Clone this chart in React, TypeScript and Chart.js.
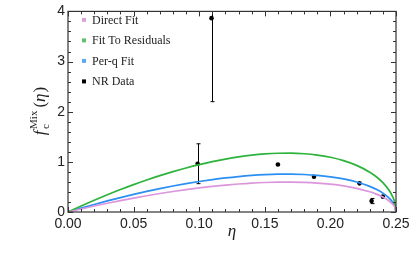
import React, { useEffect, useRef } from "react";
import { Chart, registerables } from "chart.js";

Chart.register(...registerables);

// ---- Data ----
const etaGrid = [
  0, 0.01, 0.02, 0.03, 0.04, 0.05, 0.06, 0.07, 0.08, 0.09, 0.1, 0.11, 0.12, 0.13,
  0.14, 0.15, 0.16, 0.17, 0.18, 0.19, 0.2, 0.21, 0.22, 0.23, 0.235, 0.24, 0.245,
  0.2475, 0.249, 0.25,
];
const directFit = [
  0, 0.0607, 0.1189, 0.1745, 0.2273, 0.2773, 0.3243, 0.3683, 0.409, 0.4464, 0.4803,
  0.5104, 0.5365, 0.5584, 0.5758, 0.5882, 0.5952, 0.5962, 0.5905, 0.5771, 0.5545,
  0.5208, 0.4725, 0.4033, 0.3569, 0.2976, 0.2148, 0.1535, 0.0976, 0,
];
const fitToResiduals = [
  0, 0.1195, 0.234, 0.3433, 0.4473, 0.5456, 0.6381, 0.7246, 0.8048, 0.8784, 0.945,
  1.0043, 1.0557, 1.0988, 1.133, 1.1574, 1.1712, 1.1732, 1.162, 1.1356, 1.0912,
  1.0248, 0.9298, 0.7937, 0.7023, 0.5856, 0.4227, 0.302, 0.1921, 0,
];
const perQFit = [
  0, 0.0769, 0.1506, 0.2209, 0.2878, 0.3511, 0.4106, 0.4663, 0.5179, 0.5652, 0.6081,
  0.6462, 0.6793, 0.707, 0.729, 0.7447, 0.7536, 0.7549, 0.7477, 0.7307, 0.7021,
  0.6594, 0.5982, 0.5107, 0.4519, 0.3768, 0.272, 0.1943, 0.1236, 0,
];
const nrEta = [0.0988, 0.1094, 0.16, 0.1875, 0.2222, 0.2314, 0.24];
const nrValue = [0.962, 3.865, 0.948, 0.704, 0.571, 0.219, 0.306];
const nrErrLow: (number | null)[] = [0.565, 2.2, null, null, null, 0.167, null];
const nrErrHigh: (number | null)[] = [1.36, 4.6, null, null, null, 0.27, null];

const seriesLabels = ["Direct Fit", "Fit To Residuals", "Per-q Fit", "NR Data"];
const xTickStep = 0.05;
const xMinorStep = 0.01;
const yTickStep = 1;
const yMinorStep = 0.2;
const xMin = 0, xMax = 0.25, yMin = 0, yMax = 4;

// ---- Styles ----
const lineColors = ["#DC96DC", "#2DB33C", "#2A8EF2", "#000000"];
const legendColors = ["#D9A3D9", "#62BF6A", "#62A8F0", "#000000"];
const SANS = "'Liberation Sans', Arial, sans-serif";
const SERIF = "'Liberation Serif', 'Times New Roman', serif";

const framePlugin = {
  id: "framePlugin",
  beforeDatasetsDraw(chart: any) {
    const ctx = chart.ctx;
    const xs = chart.scales.x;
    const ys = chart.scales.y;
    const { left, right, top, bottom } = chart.chartArea;
    ctx.save();
    ctx.beginPath();
    ctx.rect(left, top, right - left, bottom - top);
    ctx.clip();
    ctx.strokeStyle = "#000";
    ctx.lineWidth = 1;
    for (let i = 0; i < nrEta.length; i++) {
      const lo = nrErrLow[i];
      const hi = nrErrHigh[i];
      if (lo == null || hi == null) continue;
      const x = Math.round(xs.getPixelForValue(nrEta[i])) + 0.5;
      const y1 = ys.getPixelForValue(lo);
      const y2 = ys.getPixelForValue(hi);
      ctx.beginPath();
      ctx.moveTo(x, y1);
      ctx.lineTo(x, y2);
      ctx.moveTo(x - 2, y1);
      ctx.lineTo(x + 2, y1);
      ctx.moveTo(x - 2, y2);
      ctx.lineTo(x + 2, y2);
      ctx.stroke();
    }
    ctx.restore();
  },
  afterDraw(chart: any) {
    const ctx = chart.ctx;
    const xs = chart.scales.x;
    const ys = chart.scales.y;
    const { left, right, top, bottom } = chart.chartArea;
    ctx.save();
    // frame
    ctx.strokeStyle = "#333";
    ctx.lineWidth = 1.2;
    ctx.strokeRect(left, top, right - left, bottom - top);
    // x ticks
    ctx.lineWidth = 1;
    ctx.strokeStyle = "#333";
    const nx = Math.round((xMax - xMin) / xMinorStep);
    const majEvery = Math.round(xTickStep / xMinorStep);
    for (let i = 0; i <= nx; i++) {
      const v = xMin + i * xMinorStep;
      const px = Math.round(xs.getPixelForValue(v)) + 0.5;
      const len = i % majEvery === 0 ? 5 : 3;
      ctx.beginPath();
      ctx.moveTo(px, bottom);
      ctx.lineTo(px, bottom - len);
      ctx.moveTo(px, top);
      ctx.lineTo(px, top + len);
      ctx.stroke();
    }
    const ny = Math.round((yMax - yMin) / yMinorStep);
    const yMaj = Math.round(yTickStep / yMinorStep);
    for (let i = 0; i <= ny; i++) {
      const v = yMin + i * yMinorStep;
      const py = Math.round(ys.getPixelForValue(v)) + 0.5;
      const len = i % yMaj === 0 ? 5 : 3;
      ctx.beginPath();
      ctx.moveTo(left, py);
      ctx.lineTo(left + len, py);
      ctx.moveTo(right, py);
      ctx.lineTo(right - len, py);
      ctx.stroke();
    }
    // legend
    const rowH = 20.5;
    ctx.textBaseline = "middle";
    ctx.textAlign = "left";
    ctx.font = `12px ${SERIF}`;
    chart.data.datasets.forEach((ds: any, i: number) => {
      const cy = top + 8.5 + i * rowH;
      ctx.fillStyle = legendColors[i];
      ctx.fillRect(left + 14, cy - 2, 4, 4);
      ctx.fillStyle = "#222";
      ctx.fillText(ds.label, left + 24, cy + 0.5);
    });
    // x title
    ctx.textAlign = "center";
    ctx.textBaseline = "alphabetic";
    ctx.font = `italic 17px ${SERIF}`;
    ctx.fillStyle = "#222";
    ctx.fillText("\u03B7", (left + right) / 2, 236);
    // y title
    ctx.translate(45, 111);
    ctx.rotate(-Math.PI / 2);
    const fFont = `italic 17px ${SERIF}`;
    const sFont = `11px ${SERIF}`;
    const pFont = `17px ${SERIF}`;
    ctx.font = fFont;
    const wF = ctx.measureText("f").width;
    ctx.font = sFont;
    const wSub = Math.max(ctx.measureText("c").width, ctx.measureText("Mix").width);
    ctx.font = pFont;
    const wOpen = ctx.measureText("(").width;
    const wClose = ctx.measureText(")").width;
    ctx.font = fFont;
    const wEta = ctx.measureText("\u03B7").width;
    const gap = 3;
    const total = wF + 1.5 + wSub + gap + wOpen + wEta + 1 + wClose;
    let x = -total / 2;
    ctx.textAlign = "left";
    ctx.font = fFont;
    ctx.fillText("f", x, 0);
    x += wF + 1.5;
    ctx.font = sFont;
    ctx.fillText("c", x, 4);
    ctx.fillText("Mix", x, -8);
    x += wSub + gap;
    ctx.font = pFont;
    ctx.fillText("(", x, 0);
    x += wOpen;
    ctx.font = fFont;
    ctx.fillText("\u03B7", x, 0);
    x += wEta + 1;
    ctx.font = pFont;
    ctx.fillText(")", x, 0);
    ctx.restore();
  },
};

export default function App() {
  const canvasRef = useRef<HTMLCanvasElement | null>(null);
  useEffect(() => {
    document.body.style.margin = "0";
    const canvas = canvasRef.current;
    if (!canvas) return;
    const mkLine = (label: string, values: number[], color: string) => ({
      type: "line" as const,
      label,
      data: etaGrid.map((e, i) => ({ x: e, y: values[i] })),
      borderColor: color,
      backgroundColor: color,
      borderWidth: 1.7,
      pointRadius: 0,
      showLine: true,
      cubicInterpolationMode: "monotone" as const,
      fill: false,
    });
    const chart = new Chart(canvas, {
      type: "scatter",
      data: {
        datasets: [
          mkLine(seriesLabels[0], directFit, lineColors[0]),
          mkLine(seriesLabels[1], fitToResiduals, lineColors[1]),
          mkLine(seriesLabels[2], perQFit, lineColors[2]),
          {
            type: "scatter" as const,
            label: seriesLabels[3],
            data: nrEta.map((e, i) => ({ x: e, y: nrValue[i] })),
            backgroundColor: lineColors[3],
            borderColor: lineColors[3],
            pointRadius: 2.3,
            borderWidth: 0,
          },
        ] as any,
      },
      options: {
        animation: false,
        responsive: false,
        maintainAspectRatio: false,
        layout: { padding: { left: 0, top: 10, right: 19, bottom: 0 } },
        plugins: { legend: { display: false }, tooltip: { enabled: false } },
        scales: {
          x: {
            type: "linear",
            min: xMin,
            max: xMax,
            grid: { display: false, drawTicks: false },
            border: { display: false },
            ticks: {
              stepSize: xTickStep,
              autoSkip: false,
              maxRotation: 0,
              padding: 4,
              color: "#222",
              font: { family: SANS, size: 14 },
              callback: (v: any) => Number(v).toFixed(2),
            },
            afterFit: (s: any) => {
              s.height = 49;
            },
          },
          y: {
            type: "linear",
            min: yMin,
            max: yMax,
            grid: { display: false, drawTicks: false },
            border: { display: false },
            ticks: {
              stepSize: yTickStep,
              padding: 3,
              color: "#222",
              font: { family: SANS, size: 14 },
              callback: (v: any) => String(v),
            },
            afterFit: (s: any) => {
              s.width = 68;
            },
          },
        },
      },
      plugins: [framePlugin],
    });
    return () => chart.destroy();
  }, []);
  return (
    <div style={{ width: 415, height: 261 }}>
      <canvas ref={canvasRef} width={415} height={261} style={{ display: "block" }} />
    </div>
  );
}
